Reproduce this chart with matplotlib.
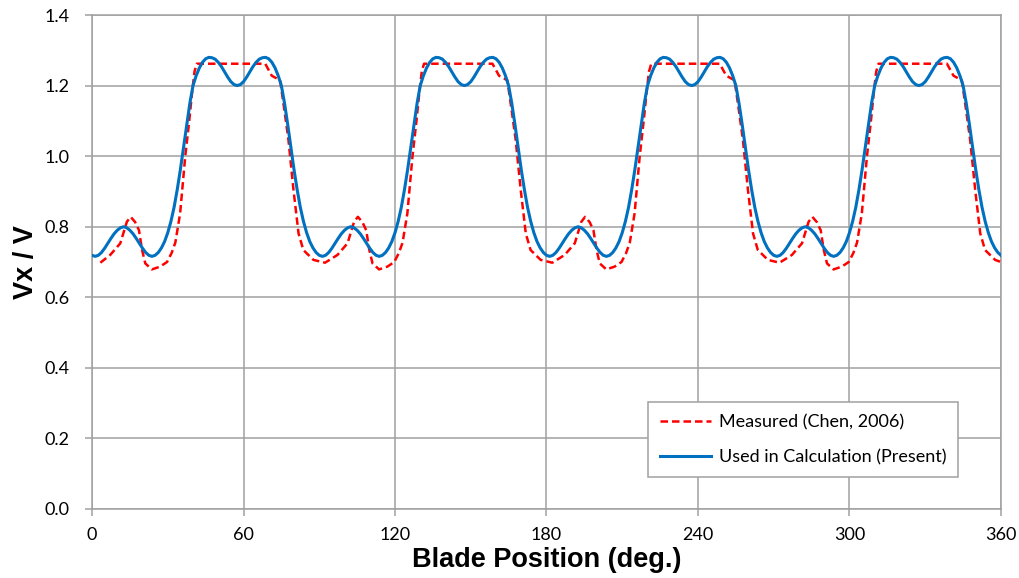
import numpy as np
import matplotlib.pyplot as plt

# Measured velocity ratio (Chen, 2006)
measured_angle = [
    3.3, 7.2, 11.2, 13.8, 15.3, 17.1, 18.6, 19.8, 21.1, 23.7, 27.0, 29.7, 31.5, 33.0, 34.9,
    36.9, 38.5, 39.6, 40.6, 41.5, 68.6, 71.2, 74.5, 76.2, 77.8, 79.8, 81.8, 83.7, 87.7,
    92.3, 97.2, 101.2, 103.8, 105.3, 107.1, 108.6, 109.8, 111.1, 113.7, 117.0, 119.7, 121.5, 123.0, 124.9,
    126.9, 128.5, 129.6, 130.6, 131.5, 158.6, 161.2, 164.5, 166.2, 167.8, 169.8, 171.8, 173.7, 177.7,
    182.3, 187.2, 191.2, 193.8, 195.3, 197.1, 198.6, 199.8, 201.1, 203.7, 207.0, 209.7, 211.5, 213.0, 214.9,
    216.9, 218.5, 219.6, 220.6, 221.5, 248.6, 251.2, 254.5, 256.2, 257.8, 259.8, 261.8, 263.7, 267.7,
    272.3, 277.2, 281.2, 283.8, 285.3, 287.1, 288.6, 289.8, 291.1, 293.7, 297.0, 299.7, 301.5, 303.0, 304.9,
    306.9, 308.5, 309.6, 310.6, 311.5, 338.6, 341.2, 344.5, 346.2, 347.8, 349.8, 351.8, 353.7, 357.7, 360.0,
]
measured_vx = [
    0.698, 0.720, 0.753, 0.814, 0.828, 0.813, 0.790, 0.735, 0.696, 0.679, 0.687, 0.700, 0.725, 0.755, 0.838,
    0.998, 1.100, 1.178, 1.240, 1.262, 1.262, 1.228, 1.215, 1.130, 1.046, 0.904, 0.781, 0.734, 0.706,
    0.698, 0.720, 0.753, 0.814, 0.828, 0.813, 0.790, 0.735, 0.696, 0.679, 0.687, 0.700, 0.725, 0.755, 0.838,
    0.998, 1.100, 1.178, 1.240, 1.262, 1.262, 1.228, 1.215, 1.130, 1.046, 0.904, 0.781, 0.734, 0.706,
    0.698, 0.720, 0.753, 0.814, 0.828, 0.813, 0.790, 0.735, 0.696, 0.679, 0.687, 0.700, 0.725, 0.755, 0.838,
    0.998, 1.100, 1.178, 1.240, 1.262, 1.262, 1.228, 1.215, 1.130, 1.046, 0.904, 0.781, 0.734, 0.706,
    0.698, 0.720, 0.753, 0.814, 0.828, 0.813, 0.790, 0.735, 0.696, 0.679, 0.687, 0.700, 0.725, 0.755, 0.838,
    0.998, 1.100, 1.178, 1.240, 1.262, 1.262, 1.228, 1.215, 1.130, 1.046, 0.904, 0.781, 0.734, 0.706, 0.700,
]

# Velocity ratio used in calculation, every 1.25 deg (one row block per 90 deg)
calc_angle = np.arange(0, 361.25, 1.25)
calc_vx = [
    # 0 - 90
    0.719, 0.716, 0.719, 0.727, 0.739, 0.753, 0.767, 0.780, 0.790, 0.797, 0.800, 0.797,
    0.790, 0.780, 0.767, 0.753, 0.739, 0.727, 0.719, 0.716, 0.719, 0.727, 0.740, 0.758,
    0.783, 0.815, 0.855, 0.905, 0.962, 1.025, 1.090, 1.150, 1.200, 1.228, 1.250, 1.266,
    1.276, 1.280, 1.279, 1.275, 1.266, 1.254, 1.239, 1.224, 1.211, 1.203, 1.200, 1.203,
    1.211, 1.224, 1.239, 1.254, 1.266, 1.275, 1.279, 1.280, 1.276, 1.266, 1.250, 1.228,
    1.200, 1.150, 1.090, 1.025, 0.962, 0.905, 0.855, 0.815, 0.783, 0.758, 0.740, 0.727,
    # 90 - 180
    0.719, 0.716, 0.719, 0.727, 0.739, 0.753, 0.767, 0.780, 0.790, 0.797, 0.800, 0.797,
    0.790, 0.780, 0.767, 0.753, 0.739, 0.727, 0.719, 0.716, 0.719, 0.727, 0.740, 0.758,
    0.783, 0.815, 0.855, 0.905, 0.962, 1.025, 1.090, 1.150, 1.200, 1.228, 1.250, 1.266,
    1.276, 1.280, 1.279, 1.275, 1.266, 1.254, 1.239, 1.224, 1.211, 1.203, 1.200, 1.203,
    1.211, 1.224, 1.239, 1.254, 1.266, 1.275, 1.279, 1.280, 1.276, 1.266, 1.250, 1.228,
    1.200, 1.150, 1.090, 1.025, 0.962, 0.905, 0.855, 0.815, 0.783, 0.758, 0.740, 0.727,
    # 180 - 270
    0.719, 0.716, 0.719, 0.727, 0.739, 0.753, 0.767, 0.780, 0.790, 0.797, 0.800, 0.797,
    0.790, 0.780, 0.767, 0.753, 0.739, 0.727, 0.719, 0.716, 0.719, 0.727, 0.740, 0.758,
    0.783, 0.815, 0.855, 0.905, 0.962, 1.025, 1.090, 1.150, 1.200, 1.228, 1.250, 1.266,
    1.276, 1.280, 1.279, 1.275, 1.266, 1.254, 1.239, 1.224, 1.211, 1.203, 1.200, 1.203,
    1.211, 1.224, 1.239, 1.254, 1.266, 1.275, 1.279, 1.280, 1.276, 1.266, 1.250, 1.228,
    1.200, 1.150, 1.090, 1.025, 0.962, 0.905, 0.855, 0.815, 0.783, 0.758, 0.740, 0.727,
    # 270 - 360
    0.719, 0.716, 0.719, 0.727, 0.739, 0.753, 0.767, 0.780, 0.790, 0.797, 0.800, 0.797,
    0.790, 0.780, 0.767, 0.753, 0.739, 0.727, 0.719, 0.716, 0.719, 0.727, 0.740, 0.758,
    0.783, 0.815, 0.855, 0.905, 0.962, 1.025, 1.090, 1.150, 1.200, 1.228, 1.250, 1.266,
    1.276, 1.280, 1.279, 1.275, 1.266, 1.254, 1.239, 1.224, 1.211, 1.203, 1.200, 1.203,
    1.211, 1.224, 1.239, 1.254, 1.266, 1.275, 1.279, 1.280, 1.276, 1.266, 1.250, 1.228,
    1.200, 1.150, 1.090, 1.025, 0.962, 0.905, 0.855, 0.815, 0.783, 0.758, 0.740, 0.727,
    0.719,
]

x_ticks = [0, 60, 120, 180, 240, 300, 360]
y_ticks = [0.0, 0.2, 0.4, 0.6, 0.8, 1.0, 1.2, 1.4]

grid_color = '#a0a0a0'

fig = plt.figure(figsize=(10.19, 5.78), dpi=100)
ax = fig.add_axes([0.0903, 0.1194, 0.8920, 0.8546])

ax.plot(measured_angle, measured_vx, color='#ff0000', lw=1.8, dashes=(3, 1.6),
        label='Measured (Chen, 2006)', zorder=3)
ax.plot(calc_angle, calc_vx, color='#0070c0', lw=2.2, solid_joinstyle='round',
        label='Used in Calculation (Present)', zorder=4)

ax.set_xlim(0, 360)
ax.set_ylim(0, 1.4)
ax.set_xticks(x_ticks)
ax.set_yticks(y_ticks)
ax.set_yticklabels([f'{v:.1f}' for v in y_ticks])
ax.grid(True, color=grid_color, lw=1.1)
ax.set_axisbelow(True)
for s in ax.spines.values():
    s.set_color(grid_color)
    s.set_linewidth(1.1)
ax.tick_params(axis='both', colors=grid_color, labelcolor='black', length=5, width=1.1,
               labelsize=13)
ax.tick_params(axis='x', pad=8)
ax.tick_params(axis='y', pad=11)
for lbl in ax.get_xticklabels() + ax.get_yticklabels():
    lbl.set_family('Lato')

ax.set_xlabel('Blade Position (deg.)', family='Liberation Sans', fontweight='bold',
              fontsize=19.5)
ax.set_ylabel('Vx / V', family='Liberation Sans', fontweight='bold', fontsize=19.5)
ax.xaxis.set_label_coords(0.5, -0.076)
ax.yaxis.set_label_coords(-0.058, 0.5)

leg = ax.legend(loc='upper left', bbox_to_anchor=(0.6117, 0.2166), borderaxespad=0,
                fancybox=False, framealpha=1, edgecolor=grid_color,
                prop={'family': 'Lato', 'size': 13}, handlelength=2.8,
                borderpad=0.67, labelspacing=1.03, handletextpad=0.45)
leg.get_frame().set_linewidth(1.1)

plt.savefig('out.png', dpi=100)
